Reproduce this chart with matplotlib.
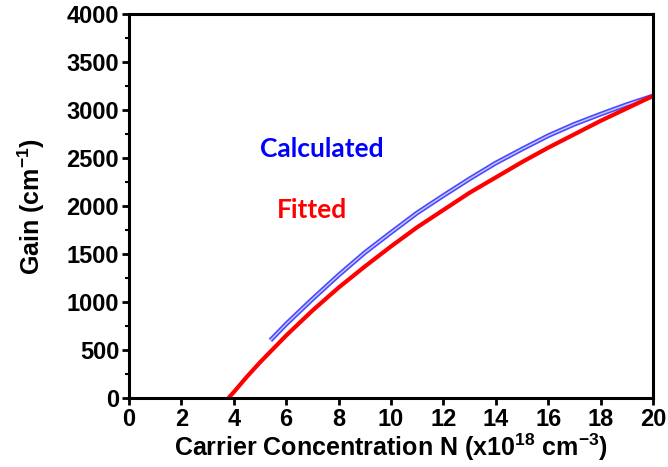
import matplotlib
matplotlib.use('Agg')
import matplotlib.pyplot as plt
from matplotlib.ticker import MultipleLocator

plt.rcParams['font.family'] = ['Liberation Sans', 'DejaVu Sans']
plt.rcParams['font.weight'] = 'bold'
plt.rcParams['mathtext.fontset'] = 'custom'
plt.rcParams['mathtext.rm'] = 'Liberation Sans:bold'
plt.rcParams['mathtext.default'] = 'rm'

# fitted curve
fit_n = [3.8, 4, 4.5, 5, 6, 7, 8, 9, 10, 11, 12, 13, 14, 15, 16, 17, 18, 19, 20]
fit_gain = [0, 60, 220, 370, 650, 910, 1150, 1370, 1580, 1780, 1960, 2140, 2300,
            2460, 2610, 2750, 2890, 3020, 3150]

# calculated curve
calc_n = [5.4, 6, 7, 8, 9, 10, 11, 12, 13, 14, 15, 16, 17, 18, 19, 20]
calc_gain = [600, 770, 1030, 1280, 1515, 1725, 1930, 2110, 2285, 2450, 2595,
             2735, 2855, 2960, 3060, 3150]

fig = plt.figure(figsize=(6.68, 4.67), dpi=100)
ax = fig.add_axes([0.193, 0.148, 0.7845, 0.821])

# calculated: hollow blue band (looks like the dense open circles)
ax.plot(calc_n, calc_gain, color='#4a4aff', lw=3.4, solid_capstyle='butt',
        solid_joinstyle='round')
ax.plot(calc_n, calc_gain, color='white', lw=1.0, alpha=0.7, solid_capstyle='butt',
        solid_joinstyle='round')
# fitted: solid red
ax.plot(fit_n, fit_gain, color='#ff0000', lw=3.0, solid_capstyle='butt',
        solid_joinstyle='round')

ax.text(7.37, 2600, 'Calculated', color='#0000ff', fontsize=19, fontweight='bold',
        family=['Lato', 'DejaVu Sans'], ha='center', va='center')
ax.text(6.98, 1960, 'Fitted', color='#ff0000', fontsize=19, fontweight='bold',
        family=['Lato', 'DejaVu Sans'], ha='center', va='center')

ax.set_xlim(0, 20)
ax.set_ylim(0, 4000)
ax.xaxis.set_major_locator(MultipleLocator(2))
ax.yaxis.set_major_locator(MultipleLocator(500))
ax.yaxis.set_minor_locator(MultipleLocator(250))

for s in ax.spines.values():
    s.set_linewidth(2.2)
ax.tick_params(axis='both', which='major', direction='out', length=5, width=2,
               labelsize=17, pad=2)
ax.tick_params(axis='y', which='minor', direction='out', length=3, width=1.5)
for lab in ax.get_xticklabels() + ax.get_yticklabels():
    lab.set_fontweight('bold')

ax.set_xlabel('Carrier Concentration N (x10$^{18}$ cm$^{-3}$)', fontsize=18,
              fontweight='bold', labelpad=1)
ax.set_ylabel('Gain (cm$^{-1}$)', fontsize=18, fontweight='bold', labelpad=14)

fig.savefig('out.png', dpi=100)
